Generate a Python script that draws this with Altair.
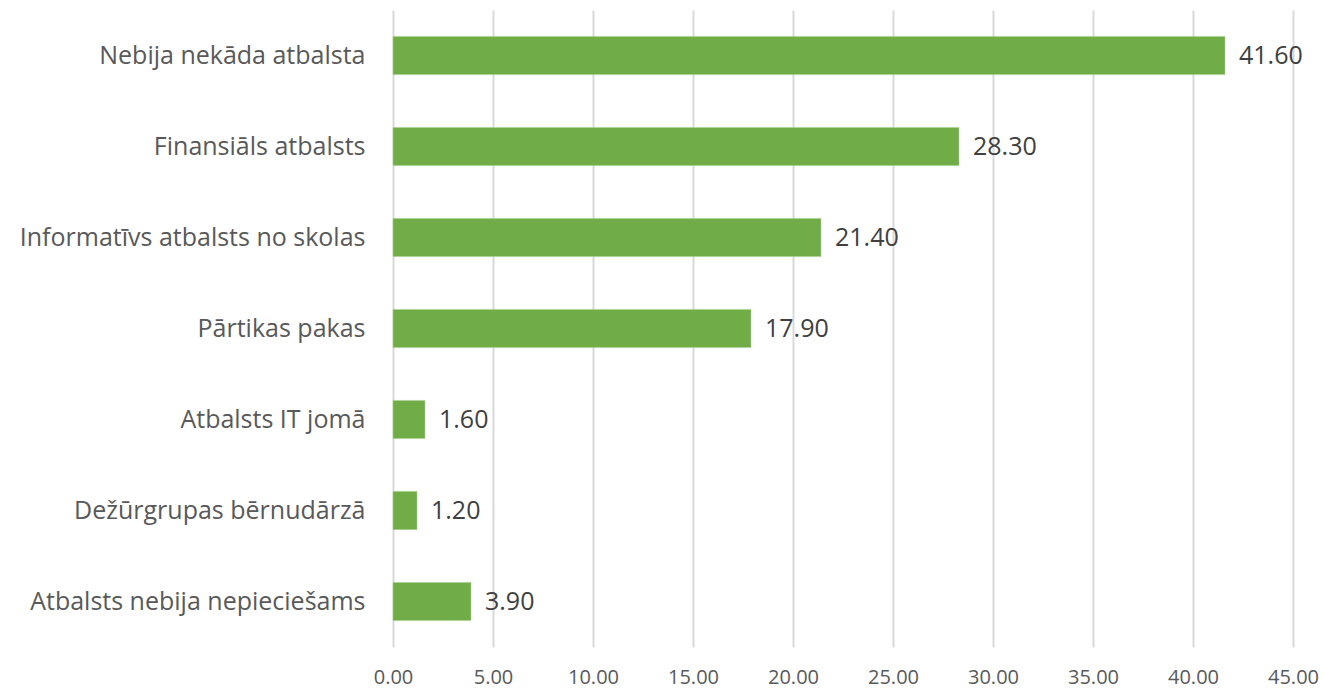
import altair as alt
import pandas as pd

categories = [
    "Nebija nekāda atbalsta",
    "Finansiāls atbalsts",
    "Informatīvs atbalsts no skolas",
    "Pārtikas pakas",
    "Atbalsts IT jomā",
    "Dežūrgrupas bērnudārzā",
    "Atbalsts nebija nepieciešams",
]
values = [41.60, 28.30, 21.40, 17.90, 1.60, 1.20, 3.90]
x_ticks = [0, 5, 10, 15, 20, 25, 30, 35, 40, 45]

df = pd.DataFrame({"cat": categories, "val": values})
df["label"] = df["val"].map(lambda v: f"{v:.2f}")

FONT = "Open Sans"
TEXT = "#595959"
BAR = "#70AD47"

y_enc = alt.Y(
    "cat:N",
    sort=categories,
    title=None,
    scale=alt.Scale(paddingInner=0.58, paddingOuter=0.29),
    axis=alt.Axis(
        domain=False,
        ticks=False,
        labelFont=FONT,
        labelFontSize=25,
        labelColor=TEXT,
        labelPadding=28,
        labelLimit=500,
        grid=False,
    ),
)
x_enc = alt.X(
    "val:Q",
    title=None,
    scale=alt.Scale(domain=[0, 45], nice=False),
    axis=alt.Axis(
        values=x_ticks,
        format=".2f",
        domain=False,
        ticks=False,
        labelFont=FONT,
        labelFontSize=20,
        labelColor=TEXT,
        labelPadding=20,
        labelFlush=False,
        labelOverlap=False,
        grid=True,
        gridColor="#D9D9D9",
        gridWidth=2,
    ),
)

bars = alt.Chart(df).mark_bar(color=BAR, stroke="#A9D18E", strokeWidth=0.5).encode(x=x_enc, y=y_enc)
labels = alt.Chart(df).mark_text(
    align="left", baseline="middle", dx=14, font=FONT, fontSize=25, color="#404040"
).encode(x="val:Q", y=alt.Y("cat:N", sort=categories), text="label:N")

chart = (
    alt.layer(bars, labels)
    .properties(
        width=900,
        height=637,
        autosize=alt.AutoSizeParams(type="none"),
        padding={"left": 393, "top": 10, "right": 31, "bottom": 43},
        background="white",
    )
    .configure_view(stroke=None)
)

chart.save("out.html", embed_options={"renderer": "svg", "actions": False})
